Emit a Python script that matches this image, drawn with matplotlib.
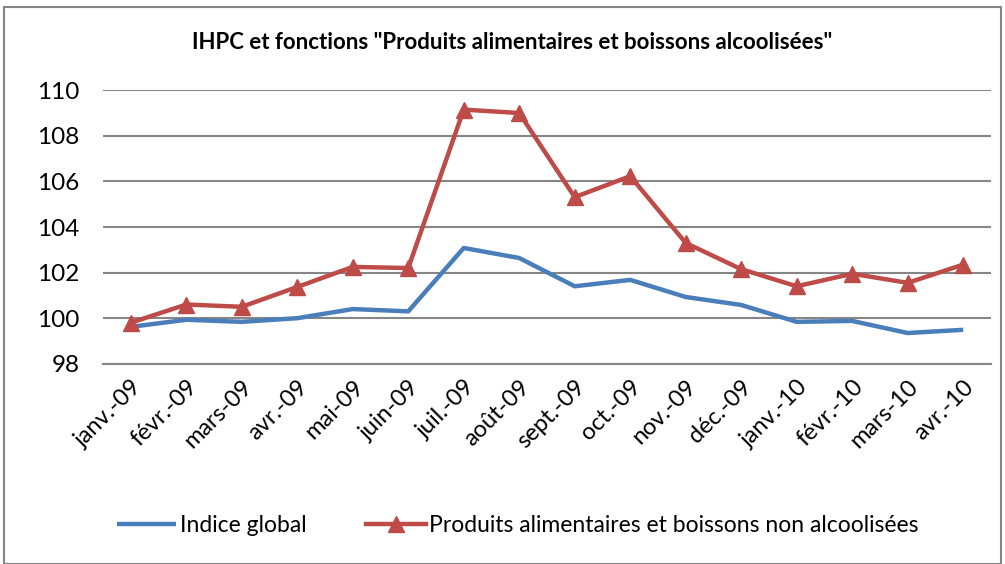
import matplotlib
matplotlib.use('Agg')

import matplotlib.pyplot as plt
from matplotlib.patches import Rectangle

months = ["janv.-09", "févr.-09", "mars-09", "avr.-09", "mai-09", "juin-09",
          "juil.-09", "août-09", "sept.-09", "oct.-09", "nov.-09", "déc.-09",
          "janv.-10", "févr.-10", "mars-10", "avr.-10"]
indice_global = [99.62, 99.93, 99.84, 100.0, 100.4, 100.3, 103.08, 102.64,
                 101.4, 101.68, 100.93, 100.58, 99.84, 99.88, 99.35, 99.49]
produits_alim = [99.8, 100.6, 100.5, 101.37, 102.25, 102.2, 109.15, 109.0,
                 105.31, 106.23, 103.3, 102.15, 101.4, 101.95, 101.55, 102.35]
yticks = [98, 100, 102, 104, 106, 108, 110]

plt.rcParams['font.family'] = ['Lato', 'DejaVu Sans']

fig = plt.figure(figsize=(10.05, 5.64), dpi=100)
ax = fig.add_axes([0.1025, 0.355, 0.8835, 0.485])

x = range(len(months))
ax.plot(x, indice_global, color='#4A7EBB', lw=3.2, label='Indice global',
        solid_capstyle='butt')
ax.plot(x, produits_alim, color='#BE4B48', lw=3.2, marker='^', ms=11,
        label='Produits alimentaires et boissons non alcoolisées')

ax.set_xlim(-0.5, len(months) - 0.5)
ax.set_ylim(98, 110)
ax.set_yticks(yticks)
ax.set_yticklabels([str(v) for v in yticks], fontsize=17.5)
ax.set_xticks(list(x))
ax.set_xticklabels(months, rotation=45, ha='right', rotation_mode='anchor', fontsize=17)
ax.tick_params(axis='y', length=0, pad=17)
ax.tick_params(axis='x', length=0, pad=9)
ax.grid(axis='y', color='#868686', lw=1.5)
ax.set_axisbelow(True)
for s in ['top', 'right', 'left']:
    ax.spines[s].set_visible(False)
ax.spines['bottom'].set_color('#868686')
ax.spines['bottom'].set_linewidth(1.5)

fig.text(0.51, 0.925, 'IHPC et fonctions "Produits alimentaires et boissons alcoolisées"',
         ha='center', va='center', fontsize=16, fontweight='bold')

fig.legend(loc='center', bbox_to_anchor=(0.515, 0.068), ncol=2, frameon=False,
           fontsize=16.5, handlelength=2.6, columnspacing=2.6, handletextpad=0.15)

fig.patches.append(Rectangle((0.004, 0.0), 0.992, 0.988, transform=fig.transFigure,
                             fill=False, edgecolor='#868686', lw=1.5))

plt.savefig('out.png', dpi=100)
plt.close()
